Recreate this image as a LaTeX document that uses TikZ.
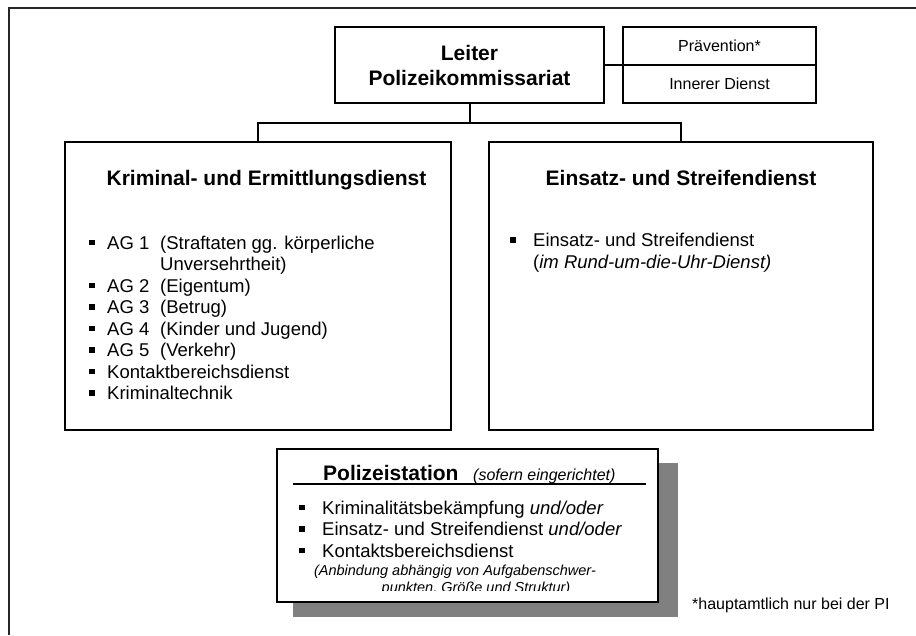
\documentclass[tikz,border=0pt]{standalone}
\usepackage{fontspec}
\setmainfont{Liberation Sans}
\begin{document}
\begin{tikzpicture}[x=1pt,y=-1pt,
  box/.style={draw, line width=2pt, rectangle, inner sep=0pt, outer sep=0pt},
  conn/.style={line width=2pt},
  head/.style={font=\fontsize{21}{25}\selectfont\bfseries},
  smalltxt/.style={font=\fontsize{16}{19}\selectfont},
  item/.style={anchor=base west, inner sep=0pt, font=\fontsize{18.5}{21.5}\selectfont},
  note/.style={anchor=base, inner sep=0pt, font=\fontsize{14.5}{17}\selectfont\itshape},
  bul/.pic={\fill (-2.6,-9.1) rectangle (2.6,-3.9);}
]
\useasboundingbox (0,0) rectangle (916,635);
% outer frame
\draw[black!85, line width=2pt] (8.5,635) -- (8.5,7.5) -- (916,7.5);

% top
\node[box, minimum width=269pt, minimum height=76pt, align=center, head] (leiter) at (469.5,65) {Leiter\\Polizeikommissariat};
\node[box, minimum width=193pt, minimum height=38pt, smalltxt] (praev) at (719.5,46) {Prävention*};
\node[box, minimum width=193pt, minimum height=38pt, smalltxt] (inner) at (719.5,84) {Innerer Dienst};
\draw[conn] (leiter.east) -- (leiter.east -| praev.west);

% main boxes
\node[box, minimum width=386pt, minimum height=288pt] (krim) at (258,286) {};
\node[box, minimum width=384pt, minimum height=288pt] (einsatz) at (681,286) {};
\coordinate (j) at (469.5,123);
\draw[conn] (leiter.south) -- (j);
\draw[conn] (krim.north) |- (j) -| (einsatz.north);

\node[head, anchor=base, inner sep=0pt] (krimtitle) at (266.5,185) {Kriminal- und Ermittlungsdienst};
\node[head, anchor=base, inner sep=0pt] (einsatztitle) at (681,185) {Einsatz- und Streifendienst};

% left list
\foreach \y in {249,292,313.5,335,356.5,378,399.5} \pic at (92,\y) {bul};
\node[item] (ag1) at (107,249) {AG 1};
\node[item] (ag1t) at (160,249) {(Straftaten gg. körperliche};
\node[item] (ag1u) at (160,270.5) {Unversehrtheit)};
\node[item] (ag2) at (107,292) {AG 2};
\node[item] (ag2t) at (160,292) {(Eigentum)};
\node[item] (ag3) at (107,313.5) {AG 3};
\node[item] (ag3t) at (160,313.5) {(Betrug)};
\node[item] (ag4) at (107,335) {AG 4};
\node[item] (ag4t) at (160,335) {(Kinder und Jugend)};
\node[item] (ag5) at (107,356.5) {AG 5};
\node[item] (ag5t) at (160,356.5) {(Verkehr)};
\node[item] (kbd) at (107,378) {Kontaktbereichsdienst};
\node[item] (kt) at (107,399.5) {Kriminaltechnik};

% right list
\pic at (513,246.5) {bul};
\node[item] (esd) at (533,246.5) {Einsatz- und Streifendienst};
\node[item] (rund) at (533,268) {(\textit{im Rund-um-die-Uhr-Dienst)}};

% Polizeistation
\fill[black!50] (293,463) rectangle (678,617);
\node[box, fill=white, minimum width=381pt, minimum height=153pt] (polst) at (467.5,525.5) {};
\node[head, anchor=base west, inner sep=0pt] (poltitle) at (323,480) {Polizeistation};
\node[anchor=base west, inner sep=0pt, font=\fontsize{16}{19}\selectfont\itshape] (sofern) at (473,480) {(sofern eingerichtet)};
\draw[conn] (293,484) -- (646,484);
\foreach \y in {514,535.5,557} \pic at (302,\y) {bul};
\node[item] (pk) at (322,514) {Kriminalitätsbekämpfung \textit{und/oder}};
\node[item] (pe) at (322,535.5) {Einsatz- und Streifendienst \textit{und/oder}};
\node[item] (pkb) at (322,557) {Kontaktsbereichsdienst};
\node[note] (anb1) at (455,575) {(Anbindung abhängig von Aufgabenschwer-};
\begin{scope}
\clip (277,449) rectangle (658,590);
\node[note] (anb2) at (476,592) {punkten, Größe und Struktur)};
\end{scope}

% footnote
\node[anchor=base west, inner sep=0pt, smalltxt] (fn) at (692,609) {*hauptamtlich nur bei der PI};
\end{tikzpicture}
\end{document}
